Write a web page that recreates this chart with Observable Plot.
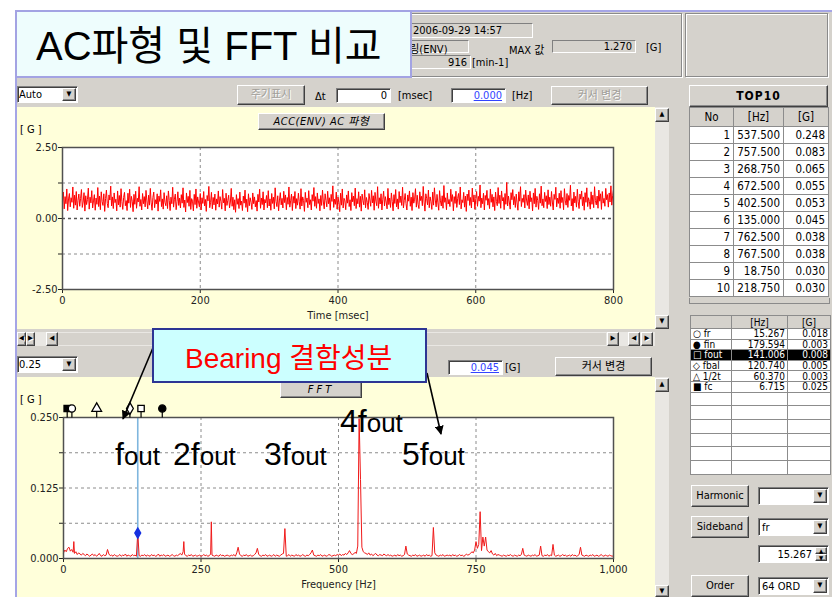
<!DOCTYPE html>
<html>
<head>
<meta charset="utf-8">
<script src="https://cdn.jsdelivr.net/npm/d3@7"></script>
<script src="https://cdn.jsdelivr.net/npm/@observablehq/plot@0.6"></script>
<style>
html,body{margin:0;padding:0;background:#fff;}
#stage{position:relative;width:832px;height:597px;overflow:hidden;background:#fff;
  font-family:"DejaVu Sans Condensed","DejaVu Sans","Noto Sans CJK KR",sans-serif;font-stretch:condensed;font-size:11px;color:#000;}
.a{position:absolute;box-sizing:border-box;white-space:nowrap;}
.win{background:#d5d2cc;}
.raised{background:#d5d2cc;border:1px solid;border-color:#fff #404040 #404040 #fff;box-shadow:inset -1px -1px 0 #8a8a8a;text-align:center;}
.sunken{background:#fff;border:1px solid;border-color:#808080 #fff #fff #808080;box-shadow:inset 1px 1px 0 #404040;}
.sunkgray{background:#d5d2cc;border:1px solid;border-color:#808080 #fff #fff #808080;}
.etched{border:1px solid #8a8a8a;box-shadow:1px 1px 0 #fff, inset 1px 1px 0 #fff;}
.panel{background:#ffffda;}
.dis{color:#a19f9a;text-shadow:1px 1px 0 #fff;}
.blue{color:#3344ff;text-decoration:underline;}
.arrowbtn{font-size:7px;line-height:11px;color:#000;}
.track{background:#e9e7e3;}
table{border-collapse:collapse;table-layout:fixed;}
td{border:1px solid #8c8c8c;padding:0 3px;overflow:hidden;white-space:nowrap;}
#bearing td{padding:0 2px;}
</style>
</head>
<body>
<div id="stage">
  <!-- window background -->
  <div class="a win" style="left:15px;top:10px;width:817px;height:587px;border-top:2px solid #a5a5e6;border-left:2px solid #a5a5e6;"></div>

  <!-- header info group -->
  <div class="a etched" style="left:250px;top:13px;width:432px;height:64px;"></div>
  <div class="a etched" style="left:685px;top:13px;width:143px;height:64px;"></div>
  <div class="a sunkgray" style="left:330px;top:23px;width:203px;height:15px;"></div>
  <div class="a" id="dateText" style="left:413px;top:24px;"></div>
  <div class="a sunkgray" style="left:330px;top:40px;width:139px;height:13px;"></div>
  <div class="a" id="sensorText" style="left:389px;top:40px;"></div>
  <div class="a sunkgray" style="left:330px;top:55px;width:141px;height:14px;"></div>
  <div class="a" id="rpmText" style="left:420px;top:56px;width:47px;text-align:right;"></div>
  <div class="a" style="left:472px;top:56px;">[min-1]</div>
  <div class="a" style="left:509px;top:41px;">MAX 값</div>
  <div class="a sunkgray" id="maxText" style="left:552px;top:40px;width:84px;height:13px;text-align:right;padding-right:3px;line-height:11px;"></div>
  <div class="a" style="left:646px;top:41px;">[G]</div>

  <!-- waveform toolbar -->
  <div class="a sunken" style="left:17px;top:86px;width:61px;height:17px;">
    <span class="a" style="left:1px;top:1px;">Auto</span>
    <div class="a raised arrowbtn" style="right:1px;top:1px;width:14px;height:13px;">▼</div>
  </div>
  <div class="a raised dis" style="left:237px;top:85px;width:68px;height:20px;line-height:18px;">주기표시</div>
  <div class="a" style="left:315px;top:90px;">Δt</div>
  <div class="a sunken" style="left:336px;top:88px;width:55px;height:15px;text-align:right;padding-right:3px;line-height:13px;">0</div>
  <div class="a" style="left:398px;top:89px;">[msec]</div>
  <div class="a sunken" style="left:451px;top:88px;width:55px;height:15px;text-align:right;padding-right:3px;line-height:13px;"><span class="blue">0.000</span></div>
  <div class="a" style="left:512px;top:89px;">[Hz]</div>
  <div class="a raised dis" style="left:551px;top:86px;width:97px;height:19px;line-height:17px;">커서 변경</div>
  <div class="a raised" style="left:689px;top:85px;width:139px;height:22px;line-height:20px;font-weight:bold;font-size:12px;letter-spacing:1px;">TOP10</div>

  <!-- waveform panel -->
  <div class="a panel" style="left:17px;top:107px;width:638px;height:222px;"></div>
  <div class="a track" style="left:655px;top:107px;width:14px;height:222px;"></div>
  <div class="a raised arrowbtn" style="left:655px;top:108px;width:14px;height:14px;">▲</div>
  <div class="a raised arrowbtn" style="left:655px;top:315px;width:14px;height:14px;">▼</div>
  <div class="a raised" style="left:258px;top:113px;width:127px;height:17px;line-height:15px;font-style:italic;letter-spacing:0.5px;">ACC(ENV) AC 파형</div>
  <div class="a" style="left:20px;top:123px;">[ G ]</div>
  <div class="a" id="wave" style="left:0px;top:106px;"></div>

  <!-- horizontal scrollbar -->
  <div class="a track" style="left:17px;top:332px;width:638px;height:14px;"></div>
  <div class="a raised arrowbtn dis" style="left:17px;top:332px;width:9px;height:14px;">◀</div>
  <div class="a raised arrowbtn dis" style="left:26px;top:332px;width:9px;height:14px;">▶</div>
  <div class="a raised arrowbtn" style="left:46px;top:332px;width:12px;height:14px;">◀</div>
  <div class="a win" style="left:58px;top:333px;width:548px;height:12px;"></div>
  <div class="a raised arrowbtn" style="left:607px;top:332px;width:12px;height:14px;">▶</div>
  <div class="a raised arrowbtn dis" style="left:628px;top:332px;width:12px;height:14px;">◀</div>
  <div class="a raised arrowbtn dis" style="left:641px;top:332px;width:12px;height:14px;">▶</div>

  <!-- spectrum toolbar -->
  <div class="a sunken" style="left:17px;top:356px;width:61px;height:17px;">
    <span class="a" style="left:1px;top:1px;">0.25</span>
    <div class="a raised arrowbtn" style="right:1px;top:1px;width:14px;height:13px;">▼</div>
  </div>
  <div class="a sunken" style="left:448px;top:360px;width:55px;height:15px;text-align:right;padding-right:3px;line-height:13px;"><span class="blue" id="cursorText"></span></div>
  <div class="a" style="left:505px;top:361px;">[G]</div>
  <div class="a raised" style="left:555px;top:357px;width:97px;height:19px;line-height:17px;">커서 변경</div>

  <!-- spectrum panel -->
  <div class="a panel" style="left:17px;top:377px;width:638px;height:220px;"></div>
  <div class="a track" style="left:655px;top:377px;width:14px;height:220px;"></div>
  <div class="a raised arrowbtn" style="left:655px;top:378px;width:14px;height:14px;">▲</div>
  <div class="a raised arrowbtn" style="left:655px;top:585px;width:14px;height:12px;">▼</div>
  <div class="a raised" style="left:280px;top:382px;width:82px;height:16px;line-height:14px;font-style:italic;letter-spacing:3px;">FFT</div>
  <div class="a" style="left:20px;top:393px;">[ G ]</div>
  <div class="a" id="fft" style="left:0px;top:377px;"></div>

  <!-- right column -->
  <div class="a" id="top10" style="left:689px;top:107px;"></div>
  <div class="a" style="left:689px;top:298px;width:141px;height:6px;border:1px solid #8a8a8a;border-top:none;"></div>
  <div class="a" id="bearing" style="left:690px;top:315px;"></div>

  <div class="a raised" style="left:691px;top:485px;width:58px;height:22px;line-height:20px;">Harmonic</div>
  <div class="a sunken" style="left:758px;top:487px;width:71px;height:18px;">
    <div class="a raised arrowbtn" style="right:1px;top:1px;width:14px;height:14px;">▼</div>
  </div>
  <div class="a raised" style="left:691px;top:516px;width:58px;height:22px;line-height:20px;">Sideband</div>
  <div class="a sunken" style="left:758px;top:518px;width:71px;height:18px;">
    <span class="a" id="sidebandText" style="left:3px;top:2px;"></span>
    <div class="a raised arrowbtn" style="right:1px;top:1px;width:14px;height:14px;">▼</div>
  </div>
  <div class="a sunken" style="left:758px;top:545px;width:71px;height:18px;">
    <span class="a" id="spinText" style="right:16px;top:2px;"></span>
    <div class="a raised arrowbtn" style="right:1px;top:1px;width:12px;height:7px;font-size:6px;line-height:5px;">▲</div>
    <div class="a raised arrowbtn" style="right:1px;top:8px;width:12px;height:7px;font-size:6px;line-height:5px;">▼</div>
  </div>
  <div class="a raised" style="left:691px;top:575px;width:58px;height:22px;line-height:20px;">Order</div>
  <div class="a sunken" style="left:758px;top:577px;width:71px;height:18px;">
    <span class="a" style="left:3px;top:2px;">64 ORD</span>
    <div class="a raised arrowbtn" style="right:1px;top:1px;width:14px;height:14px;">▼</div>
  </div>

  <!-- slide annotations -->
  <svg class="a" width="832" height="597" style="left:0;top:0;z-index:20;pointer-events:none;">
    <defs>
      <marker id="ah" viewBox="0 0 10 10" refX="9" refY="5" markerWidth="9" markerHeight="9" orient="auto-start-reverse" markerUnits="userSpaceOnUse">
        <path d="M0,0 L10,5 L0,10 z" fill="#000"/>
      </marker>
    </defs>
    <rect x="16" y="11" width="395" height="66" fill="#eefdfd" stroke="#a3a3e3" stroke-width="2"/>
    <text x="36" y="60" font-family="Liberation Sans, Noto Sans CJK KR, sans-serif" font-size="40" fill="#000">AC파형 및 FFT 비교</text>
    <line x1="155" y1="343" x2="123" y2="419" stroke="#000" stroke-width="1.6" marker-end="url(#ah)"/>
    <line x1="427" y1="373" x2="441" y2="434" stroke="#000" stroke-width="1.6" marker-end="url(#ah)"/>
    <rect x="153" y="329" width="273" height="53" fill="#ccffff" stroke="#2d3594" stroke-width="2"/>
    <text x="185" y="368" font-family="Liberation Sans, Noto Sans CJK KR, sans-serif" font-size="28" fill="#ff0000">Bearing 결함성분</text>
    <g font-family="Liberation Sans, sans-serif" fill="#000">
      <text x="115" y="465"><tspan font-size="32">f</tspan><tspan font-size="26">out</tspan></text>
      <text x="173" y="465"><tspan font-size="32">2f</tspan><tspan font-size="26">out</tspan></text>
      <text x="264" y="465"><tspan font-size="32">3f</tspan><tspan font-size="26">out</tspan></text>
      <text x="340" y="432"><tspan font-size="32">4f</tspan><tspan font-size="26">out</tspan></text>
      <text x="402" y="465"><tspan font-size="32">5f</tspan><tspan font-size="26">out</tspan></text>
    </g>
  </svg>
</div>

<script>
// ---- measurement header ----
const measuredAt = "2006-09-29 14:57";
const sensorName = "베어링(ENV)";
const speedRpm = 916;

// ---- envelope acceleration waveform, G, one sample every 1.25 ms over 800 ms ----
const sampleMs = 1.25;
const waveG = [
  0.61,0.93,0.34,0.77,0.52,1.04,0.28,0.69,0.88,0.41,0.73,0.57,1.11,0.36,0.82,0.47,0.95,0.30,0.64,0.86,
  0.43,0.71,1.02,0.39,0.58,0.91,0.26,0.80,0.49,0.67,1.07,0.33,0.75,0.55,0.98,0.37,0.62,0.84,0.29,0.72,
  0.50,1.09,0.42,0.79,0.31,0.94,0.60,0.46,0.87,0.25,0.70,1.00,0.53,0.38,0.83,0.65,1.14,0.44,0.76,0.35,
  0.90,0.56,0.68,0.27,0.97,0.48,0.81,0.40,1.05,0.59,0.32,0.74,0.92,0.45,0.63,0.28,0.89,0.54,1.03,0.39,
  0.78,0.61,0.24,0.85,0.50,0.96,0.36,0.71,0.58,1.12,0.43,0.67,0.30,0.88,0.52,0.77,0.41,0.99,0.62,0.34,
  0.82,0.47,1.06,0.55,0.29,0.74,0.93,0.38,0.66,0.51,0.87,0.26,0.79,0.60,1.01,0.42,0.69,0.33,0.91,0.57,
  0.45,0.80,0.35,0.97,0.63,0.28,0.75,0.52,1.10,0.40,0.68,0.86,0.31,0.59,0.94,0.46,0.72,0.37,0.84,0.54,
  1.08,0.39,0.65,0.23,0.90,0.56,0.78,0.43,0.99,0.32,0.70,0.61,0.27,0.85,0.49,1.04,0.36,0.76,0.58,0.41,
  0.88,0.30,0.73,0.53,0.95,0.44,0.67,0.25,0.81,0.62,1.13,0.38,0.57,0.92,0.34,0.74,0.48,0.86,0.29,0.69,
  0.51,0.97,0.40,0.77,0.60,0.33,1.02,0.55,0.71,0.27,0.89,0.46,0.64,0.82,0.37,0.58,1.06,0.43,0.75,0.31,
  0.66,0.22,0.84,0.50,0.70,0.35,0.93,0.47,0.61,0.28,0.79,0.54,1.00,0.39,0.68,0.24,0.87,0.45,0.73,0.57,
  0.32,0.90,0.52,0.76,0.41,0.63,0.26,0.85,0.58,1.03,0.36,0.72,0.49,0.94,0.30,0.67,0.55,0.81,0.38,0.98,
  0.44,0.69,0.29,0.88,0.53,0.75,0.34,1.08,0.60,0.42,0.80,0.27,0.65,0.91,0.48,0.71,0.37,0.96,0.56,0.83,
  0.31,0.74,0.50,1.11,0.40,0.62,0.86,0.28,0.78,0.54,0.95,0.35,0.70,0.47,0.89,0.59,0.33,1.05,0.44,0.76,
  0.63,0.25,0.92,0.57,0.72,0.38,0.98,0.49,0.66,0.30,0.84,0.61,1.09,0.43,0.77,0.36,0.90,0.53,0.69,0.27,
  0.81,0.46,1.00,0.58,0.34,0.87,0.64,0.41,0.96,0.52,0.73,0.29,0.85,0.60,1.15,0.39,0.68,0.50,0.93,0.33,
  0.75,0.56,0.24,0.89,0.47,1.04,0.37,0.71,0.62,0.31,0.83,0.54,0.97,0.42,0.66,0.28,0.91,0.59,0.79,0.45,
  1.07,0.35,0.70,0.52,0.94,0.40,0.78,0.26,0.86,0.63,0.48,1.01,0.38,0.74,0.57,0.32,0.88,0.65,0.43,0.99,
  0.55,0.80,0.29,0.92,0.61,0.45,1.12,0.36,0.73,0.51,0.87,0.30,0.68,0.96,0.44,0.77,0.58,0.34,1.06,0.49,
  0.72,0.39,0.90,0.60,0.27,0.84,0.53,1.02,0.41,0.69,0.33,0.95,0.56,0.79,0.46,1.10,0.37,0.64,0.88,0.52,
  0.30,0.83,0.61,0.97,0.43,0.75,0.28,0.91,0.54,0.68,1.05,0.40,0.82,0.50,0.35,0.94,0.63,0.78,0.45,1.13,
  0.58,0.26,0.87,0.70,0.48,1.00,0.38,0.76,0.59,0.32,0.93,0.47,1.08,0.65,0.41,0.85,0.55,0.29,0.98,0.62,
  0.44,0.80,0.36,1.16,0.57,0.73,0.31,0.90,0.51,0.67,0.42,1.03,0.60,0.84,0.27,0.77,0.53,0.96,0.39,0.71,
  0.88,0.49,1.11,0.34,0.66,0.56,0.92,0.40,0.79,0.25,0.86,0.63,1.00,0.46,0.74,0.37,1.07,0.58,0.83,0.32,
  0.69,0.95,0.43,0.78,0.61,1.18,0.38,0.72,0.52,0.89,0.30,0.81,0.64,0.99,0.47,0.70,0.35,1.04,0.57,0.85,
  0.41,0.76,0.28,0.93,0.60,0.45,1.09,0.53,0.82,0.36,0.97,0.62,0.74,0.31,0.88,0.50,1.27,0.44,0.79,0.58,
  0.33,0.91,0.66,1.02,0.48,0.77,0.39,0.86,0.55,0.29,0.94,0.61,1.12,0.42,0.71,0.57,0.84,0.37,1.00,0.65,
  0.46,0.83,0.34,0.96,0.59,0.73,0.27,0.90,0.52,1.06,0.40,0.78,0.63,0.32,0.87,0.54,1.14,0.45,0.69,0.38,
  0.92,0.60,0.80,0.35,1.01,0.49,0.75,0.43,0.95,0.58,0.30,0.85,0.67,1.10,0.41,0.72,0.53,0.89,0.36,0.98,
  0.56,0.74,0.31,1.05,0.62,0.47,0.88,0.39,0.81,0.64,1.17,0.44,0.70,0.27,0.93,0.55,0.78,0.40,1.03,0.59,
  0.35,0.86,0.68,0.97,0.45,0.76,0.29,0.91,0.57,1.08,0.42,0.73,0.60,0.33,0.94,0.50,0.82,0.38,1.12,0.63,
  0.48,0.79,0.36,1.00,0.61,0.87,0.32,0.95,0.54,0.71,0.43,1.06,0.66,0.84,0.40,0.90,0.58,1.15,0.47,0.80,
  1.02
];
const timeTicks = [0, 200, 400, 600, 800];
const gTicks = [-2.5, -1.25, 0, 1.25, 2.5];
const gTickLabels = ["-2.50", "", "0.00", "", "2.50"];

// ---- envelope spectrum, G, every 2.5 Hz from 0 to 1000 Hz ----
const binHz = 2.5;
const spectrumG = [
  0.010,0.015,0.012,0.018,0.020,0.013,0.016,0.011,0.009,0.012,0.007,0.010,0.008,0.006,0.009,0.007,0.005,0.008,0.006,0.004,
  0.006,0.008,0.005,0.007,0.004,0.006,0.009,0.005,0.004,0.007,0.005,0.006,0.016,0.008,0.005,0.006,0.004,0.007,0.005,0.004,
  0.005,0.007,0.004,0.006,0.005,0.008,0.004,0.006,0.005,0.004,0.007,0.005,0.006,0.004,0.010,0.005,0.004,0.006,0.005,0.007,
  0.004,0.006,0.005,0.004,0.007,0.005,0.006,0.004,0.005,0.008,0.004,0.006,0.005,0.007,0.004,0.005,0.006,0.004,0.005,0.007,
  0.005,0.004,0.006,0.005,0.007,0.009,0.006,0.012,0.008,0.005,0.004,0.006,0.005,0.007,0.004,0.005,0.006,0.004,0.005,0.006,
  0.004,0.005,0.007,0.005,0.006,0.004,0.005,0.008,0.006,0.005,0.004,0.006,0.005,0.004,0.007,0.005,0.006,0.004,0.005,0.006,
  0.005,0.004,0.006,0.005,0.007,0.004,0.010,0.020,0.008,0.005,0.004,0.006,0.005,0.007,0.004,0.005,0.006,0.004,0.005,0.007,
  0.010,0.018,0.007,0.005,0.004,0.006,0.005,0.007,0.004,0.005,0.006,0.004,0.005,0.007,0.004,0.006,0.005,0.004,0.006,0.008,
  0.009,0.053,0.004,0.005,0.007,0.004,0.006,0.005,0.004,0.007,0.005,0.006,0.004,0.005,0.007,0.005,0.004,0.006,0.005,0.007,
  0.010,0.015,0.006,0.005,0.004,0.006,0.005,0.007,0.004,0.005,0.006,0.004,0.005,0.007,0.006,0.004,0.005,0.006,0.005,0.007,
  0.006,0.008,0.005,0.007,0.006,0.009,0.007,0.010,0.014,0.009,0.007,0.008,0.011,0.009,0.022,0.248,0.140,0.020,0.012,0.010,
  0.009,0.007,0.010,0.006,0.008,0.005,0.007,0.009,0.006,0.005,0.007,0.006,0.005,0.008,0.006,0.005,0.007,0.005,0.006,0.004,
  0.005,0.006,0.004,0.007,0.005,0.006,0.004,0.005,0.007,0.022,0.008,0.006,0.005,0.004,0.006,0.005,0.007,0.004,0.005,0.006,
  0.004,0.005,0.006,0.004,0.007,0.005,0.006,0.004,0.005,0.055,0.010,0.006,0.005,0.004,0.006,0.005,0.007,0.004,0.005,0.006,
  0.005,0.006,0.004,0.007,0.005,0.006,0.004,0.005,0.007,0.005,0.006,0.004,0.005,0.008,0.006,0.007,0.009,0.012,0.010,0.015,
  0.030,0.018,0.025,0.083,0.014,0.038,0.022,0.038,0.015,0.012,0.010,0.014,0.008,0.006,0.009,0.005,0.007,0.006,0.005,0.004,
  0.006,0.005,0.004,0.006,0.005,0.007,0.005,0.004,0.006,0.005,0.004,0.006,0.005,0.007,0.018,0.006,0.005,0.004,0.006,0.005,
  0.004,0.006,0.005,0.007,0.004,0.005,0.006,0.022,0.005,0.004,0.006,0.005,0.007,0.004,0.006,0.005,0.025,0.006,0.004,0.005,
  0.006,0.004,0.005,0.007,0.005,0.006,0.004,0.005,0.006,0.004,0.007,0.005,0.006,0.004,0.005,0.007,0.020,0.006,0.005,0.004,
  0.006,0.005,0.004,0.006,0.005,0.007,0.004,0.005,0.006,0.004,0.005,0.007,0.005,0.004,0.006,0.005,0.004,0.006,0.005,0.004,
  0.005
];
// ten largest peaks (some fall between the 2.5 Hz bins)
const top10Hz = [537.5, 757.5, 268.75, 672.5, 402.5, 135.0, 762.5, 767.5, 18.75, 218.75];
const top10G  = [0.248, 0.083, 0.065, 0.055, 0.053, 0.045, 0.038, 0.038, 0.030, 0.030];
const freqTicks = [0, 250, 500, 750, 1000];
const ampTicks = [0, 0.0625, 0.125, 0.1875, 0.25];
const ampTickLabels = ["0.000", "", "0.125", "", "0.250"];

// bearing defect frequencies
const bearingNames = ["fr", "fin", "fout", "fbal", "1/2t", "fc"];
const bearingSymbols = ["○", "●", "□", "◇", "△", "■"];
const bearingHz = [15.267, 179.594, 141.006, 120.740, 60.370, 6.715];
const bearingG = [0.018, 0.003, 0.008, 0.005, 0.003, 0.025];
const selectedBearing = "fout";

// spectrum cursor
const cursorHz = 135.0;
const cursorG = 0.045;
const sidebandName = "fr";

const uiFont = '"DejaVu Sans Condensed","DejaVu Sans","Noto Sans CJK KR",sans-serif';

// ---- header texts ----
document.getElementById("dateText").textContent = measuredAt;
document.getElementById("sensorText").textContent = sensorName;
document.getElementById("rpmText").textContent = speedRpm;
document.getElementById("maxText").textContent = d3.max(waveG).toFixed(3);
document.getElementById("cursorText").textContent = cursorG.toFixed(3);
document.getElementById("sidebandText").textContent = sidebandName;
document.getElementById("spinText").textContent = bearingHz[bearingNames.indexOf(sidebandName)].toFixed(3);

// ---- waveform chart ----
const wave = waveG.map((g, i) => ({t: i * sampleMs, g}));
const gLabel = new Map(gTicks.map((v, i) => [v, gTickLabels[i]]));
const waveChart = Plot.plot({
  width: 655, height: 222,
  marginLeft: 62, marginRight: 42, marginTop: 41, marginBottom: 39,
  style: {background: "transparent", fontFamily: uiFont, fontSize: "11px", color: "#222", overflow: "visible"},
  x: {domain: [0, 800], ticks: timeTicks, tickSize: 4, tickPadding: 3, label: null},
  y: {domain: [-2.5, 2.5], ticks: gTicks, tickSize: 4, tickPadding: 1, tickFormat: d => gLabel.get(d) ?? "", label: null},
  marks: [
    Plot.frame({fill: "#ffffff"}),
    Plot.ruleX(timeTicks.slice(1, -1), {stroke: "#8c8c8c", strokeDasharray: "3,3"}),
    Plot.ruleY([1.25, -1.25], {stroke: "#8c8c8c", strokeDasharray: "3,3"}),
    Plot.ruleY([0], {stroke: "#555", strokeWidth: 1.4, strokeDasharray: "3,3"}),
    Plot.line(wave, {x: "t", y: "g", stroke: "#ff0000", strokeWidth: 1}),
    Plot.frame({stroke: "#505050", strokeWidth: 1.5}),
    Plot.text(["Time [msec]"], {frameAnchor: "bottom", dy: 29, fontFamily: uiFont, fontSize: 11, fill: "#222"})
  ]
});
document.getElementById("wave").appendChild(waveChart);

// ---- spectrum chart: regular bins plus the listed peaks between bins ----
const byHz = new Map();
[
  ...spectrumG.map((g, i) => ({hz: i * binHz, g})),
  ...top10Hz.map((hz, i) => ({hz, g: top10G[i]}))
].forEach(d => byHz.set(d.hz, d));
const spectrum = [...byHz.values()].sort((a, b) => a.hz - b.hz);

const ampLabel = new Map(ampTicks.map((v, i) => [v, ampTickLabels[i]]));
const symbolOf = {"○": ["circle", "white"], "●": ["circle", "black"], "□": ["square", "white"],
                  "◇": ["diamond", "white"], "△": ["triangle", "white"], "■": ["square", "black"]};
const bearingRows = bearingNames.map((name, i) => ({name, hz: bearingHz[i], g: bearingG[i], sym: bearingSymbols[i]}));
const stem = {draw(ctx) { ctx.moveTo(0, 0); ctx.lineTo(0, -6); }};

const fftChart = Plot.plot({
  width: 655, height: 220,
  marginLeft: 63, marginRight: 42, marginTop: 40, marginBottom: 39,
  style: {background: "transparent", fontFamily: uiFont, fontSize: "11px", color: "#222", overflow: "visible"},
  x: {domain: [0, 1000], ticks: freqTicks, tickSize: 4, tickPadding: 3, label: null},
  y: {domain: [0, 0.25], ticks: ampTicks, tickSize: 4, tickPadding: 1, tickFormat: d => ampLabel.get(d) ?? "", label: null},
  marks: [
    Plot.frame({fill: "#ffffff"}),
    Plot.ruleX(freqTicks.slice(1, -1), {stroke: "#8c8c8c", strokeDasharray: "3,3"}),
    Plot.ruleY(ampTicks.slice(1, -1), {stroke: "#8c8c8c", strokeDasharray: "3,3"}),
    Plot.ruleX([cursorHz], {stroke: "#7fb6de", strokeWidth: 1.6}),
    Plot.line(spectrum, {x: "hz", y: "g", stroke: "#f01a1a", strokeWidth: 1}),
    Plot.dot([{hz: cursorHz, g: cursorG}], {x: "hz", y: "g", symbol: "diamond", r: 3, fill: "#1530e0", stroke: "#1530e0"}),
    Plot.frame({stroke: "#505050", strokeWidth: 1.5}),
    Plot.dot(bearingRows, {x: "hz", frameAnchor: "top", symbol: stem, stroke: "#000", strokeWidth: 1.2}),
    ...bearingRows.slice().reverse().map(d => Plot.dot([d], {
      x: "hz", frameAnchor: "top", dy: -9, r: 3.6,
      symbol: symbolOf[d.sym][0], fill: symbolOf[d.sym][1], stroke: "#000", strokeWidth: 1.3
    })),
    Plot.text(["Frequency [Hz]"], {frameAnchor: "bottom", dy: 29, fontFamily: uiFont, fontSize: 11, fill: "#222"})
  ]
});
document.getElementById("fft").appendChild(fftChart);

// ---- TOP10 table ----
const top10Html = `<table style="width:139px;font-size:11.5px;">
  <colgroup><col style="width:44px"><col style="width:50px"><col style="width:45px"></colgroup>
  <tr style="height:19px;background:#d5d2cc;text-align:center;"><td>No</td><td>[Hz]</td><td>[G]</td></tr>
  ${top10Hz.map((hz, i) => `<tr style="height:17px;background:#fff;text-align:right;">
     <td>${i + 1}</td><td>${hz.toFixed(3)}</td><td>${top10G[i].toFixed(3)}</td></tr>`).join("")}
</table>`;
document.getElementById("top10").innerHTML = top10Html;

// ---- bearing frequency table ----
const emptyRows = 6;
const bearingHtml = `<table style="width:140px;font-size:10px;line-height:9px;">
  <colgroup><col style="width:41px"><col style="width:56px"><col style="width:43px"></colgroup>
  <tr style="height:13px;background:#d5d2cc;text-align:center;"><td></td><td>[Hz]</td><td>[G]</td></tr>
  ${bearingRows.map(d => {
    const sel = d.name === selectedBearing;
    return `<tr style="height:10.6px;text-align:right;background:${sel ? "#000" : "#fff"};color:${sel ? "#fff" : "#000"};">
      <td style="text-align:left;">${d.sym} ${d.name}</td><td>${d.hz.toFixed(3)}</td><td>${d.g.toFixed(3)}</td></tr>`;
  }).join("")}
  ${Array.from({length: emptyRows}, () => `<tr style="height:13.7px;background:#fff;"><td></td><td></td><td></td></tr>`).join("")}
</table>`;
document.getElementById("bearing").innerHTML = bearingHtml;
</script>
</body>
</html>
